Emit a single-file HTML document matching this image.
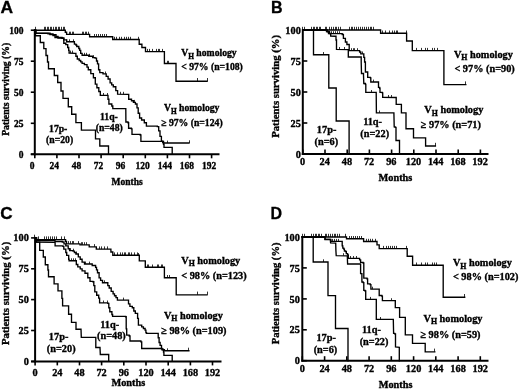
<!DOCTYPE html>
<html><head><meta charset="utf-8"><style>
html,body{margin:0;padding:0;background:#fff;}
svg{display:block;filter:grayscale(100%);}
.t{font-family:"Liberation Serif", serif;font-weight:bold;font-size:9.5px;fill:#000;stroke:#000;stroke-width:0.35px;}
.sub{font-size:7.5px;}
.L{font-family:"Liberation Sans", sans-serif;font-weight:bold;font-size:16px;fill:#000;stroke:#000;stroke-width:0.3px;}
</style></head><body>
<svg width="520" height="389" viewBox="0 0 520 389" shape-rendering="auto">
<rect width="520" height="389" fill="#fff"/>
<text transform="translate(0.50,12.80) scale(1.09,1)" class="L" style="font-size:16px">A</text>
<path d="M34.8,29.2 L34.8,155.3" stroke="#000" stroke-width="2" fill="none"/>
<path d="M30.8,154.3 L219.5,154.3" stroke="#000" stroke-width="2" fill="none"/>
<path d="M30.8,30.2 L34.8,30.2" stroke="#000" stroke-width="1.6"/>
<text x="23.4" y="33.5" text-anchor="end" class="t" style="font-size:9.5px">100</text>
<path d="M30.8,61.2 L34.8,61.2" stroke="#000" stroke-width="1.6"/>
<text x="23.4" y="64.5" text-anchor="end" class="t" style="font-size:9.5px">75</text>
<path d="M30.8,92.2 L34.8,92.2" stroke="#000" stroke-width="1.6"/>
<text x="23.4" y="95.5" text-anchor="end" class="t" style="font-size:9.5px">50</text>
<path d="M30.8,123.3 L34.8,123.3" stroke="#000" stroke-width="1.6"/>
<text x="23.4" y="126.6" text-anchor="end" class="t" style="font-size:9.5px">25</text>
<path d="M30.8,154.3 L34.8,154.3" stroke="#000" stroke-width="1.6"/>
<text x="23.4" y="157.6" text-anchor="end" class="t" style="font-size:9.5px">0</text>
<path d="M34.8,154.3 L34.8,158.3" stroke="#000" stroke-width="1.6"/>
<text x="32.2" y="169.0" text-anchor="middle" class="t" style="font-size:9.5px">0</text>
<path d="M56.9,154.3 L56.9,158.3" stroke="#000" stroke-width="1.6"/>
<text x="54.3" y="169.0" text-anchor="middle" class="t" style="font-size:9.5px">24</text>
<path d="M79.0,154.3 L79.0,158.3" stroke="#000" stroke-width="1.6"/>
<text x="76.4" y="169.0" text-anchor="middle" class="t" style="font-size:9.5px">48</text>
<path d="M101.1,154.3 L101.1,158.3" stroke="#000" stroke-width="1.6"/>
<text x="98.5" y="169.0" text-anchor="middle" class="t" style="font-size:9.5px">72</text>
<path d="M123.2,154.3 L123.2,158.3" stroke="#000" stroke-width="1.6"/>
<text x="120.6" y="169.0" text-anchor="middle" class="t" style="font-size:9.5px">96</text>
<path d="M145.3,154.3 L145.3,158.3" stroke="#000" stroke-width="1.6"/>
<text x="142.7" y="169.0" text-anchor="middle" class="t" style="font-size:9.5px">120</text>
<path d="M167.4,154.3 L167.4,158.3" stroke="#000" stroke-width="1.6"/>
<text x="164.8" y="169.0" text-anchor="middle" class="t" style="font-size:9.5px">144</text>
<path d="M189.5,154.3 L189.5,158.3" stroke="#000" stroke-width="1.6"/>
<text x="186.9" y="169.0" text-anchor="middle" class="t" style="font-size:9.5px">168</text>
<path d="M211.6,154.3 L211.6,158.3" stroke="#000" stroke-width="1.6"/>
<text x="209.0" y="169.0" text-anchor="middle" class="t" style="font-size:9.5px">192</text>
<text x="111.5" y="185.3" class="t" style="font-size:9.5px">Months</text>
<text transform="translate(9.0,89.3) rotate(-90)" text-anchor="middle" class="t" style="font-size:9.7px">Patients surviving (%)</text>
<path d="M34.8,30.2 L65.3,30.2 L65.3,32.2 L66.6,32.2 L66.6,34.4 L89.6,34.4 L89.6,36.7 L112.7,36.7 L112.7,39.5 L139.2,39.5 L139.2,44.2 L141.9,44.2 L141.9,47.5 L145.5,47.5 L145.5,51.6 L164.4,51.6 L164.4,63.5 L176.0,63.5 L176.0,81.2 L207.1,81.2" stroke="#000" stroke-width="1.35" fill="none" stroke-linejoin="miter" stroke-linecap="square"/>
<path d="M35.5,30.2 L35.5,26.8 M44.5,30.2 L44.5,26.8 M45.5,30.2 L45.5,26.8 M47.5,30.2 L47.5,26.8 M48.5,30.2 L48.5,26.8 M50.5,30.2 L50.5,26.8 M51.5,30.2 L51.5,26.8 M53.5,30.2 L53.5,26.8 M55.5,30.2 L55.5,26.8 M56.5,30.2 L56.5,26.8 M58.5,30.2 L58.5,26.8 M59.5,30.2 L59.5,26.8 M61.5,30.2 L61.5,26.8 M63.5,30.2 L63.5,26.8 M64.5,30.2 L64.5,26.8" stroke="#000" stroke-width="0.8"/>
<path d="M69.5,34.4 L69.5,31.7 M70.5,34.4 L70.5,31.7 M72.5,34.4 L72.5,31.7 M73.5,34.4 L73.5,31.7 M82.5,34.4 L82.5,31.7 M83.5,34.4 L83.5,31.7 M85.5,34.4 L85.5,31.7 M86.5,34.4 L86.5,31.7 M88.5,34.4 L88.5,31.7" stroke="#000" stroke-width="0.8"/>
<path d="M94.5,36.7 L94.5,34.0 M96.5,36.7 L96.5,34.0 M98.5,36.7 L98.5,34.0 M100.5,36.7 L100.5,34.0 M102.5,36.7 L102.5,34.0 M104.5,36.7 L104.5,34.0 M106.5,36.7 L106.5,34.0" stroke="#000" stroke-width="0.8"/>
<path d="M114.5,39.5 L114.5,36.8 M116.5,39.5 L116.5,36.8 M119.5,39.5 L119.5,36.8 M121.5,39.5 L121.5,36.8 M124.5,39.5 L124.5,36.8 M126.5,39.5 L126.5,36.8 M128.5,39.5 L128.5,36.8 M130.5,39.5 L130.5,36.8 M138.5,39.5 L138.5,36.8" stroke="#000" stroke-width="0.8"/>
<path d="M147.5,51.6 L147.5,48.9 M149.5,51.6 L149.5,48.9 M152.5,51.6 L152.5,48.9 M156.5,51.6 L156.5,48.9 M158.5,51.6 L158.5,48.9 M159.5,51.6 L159.5,48.9 M162.5,51.6 L162.5,48.9" stroke="#000" stroke-width="0.8"/>
<path d="M167.5,63.5 L167.5,60.8 M168.5,63.5 L168.5,60.8" stroke="#000" stroke-width="0.8"/>
<path d="M197.5,81.2 L197.5,78.0 M207.5,81.2 L207.5,78.0" stroke="#000" stroke-width="0.8"/>
<path d="M34.8,30.2 L35.8,30.2 L35.8,32.8 L48.0,33.1 L50.0,33.1 L50.0,33.8 L53.0,33.8 L53.0,34.6 L56.0,34.6 L56.0,36.5 L58.0,36.5 L58.0,37.5 L62.0,37.5 L62.0,38.0 L63.8,38.0 L63.8,39.8 L66.7,39.8 L66.7,41.7 L74.4,41.7 L74.4,42.3 L74.4,44.1 L75.9,44.1 L75.9,45.1 L76.8,45.1 L76.8,46.5 L78.8,46.5 L78.8,48.5 L79.7,48.5 L79.7,50.4 L80.7,50.4 L80.7,53.3 L82.1,53.3 L82.1,55.2 L88.8,55.2 L88.8,56.2 L92.7,56.2 L92.7,57.6 L95.1,57.6 L95.1,58.1 L96.5,58.1 L96.5,61.0 L97.5,61.0 L97.5,63.8 L98.6,63.8 L98.6,69.7 L99.8,69.7 L99.8,72.6 L103.0,72.6 L103.0,73.9 L106.2,73.9 L106.2,76.4 L108.1,76.4 L108.1,79.0 L110.1,79.0 L110.1,82.9 L111.7,82.9 L111.7,84.8 L113.3,84.8 L113.3,86.7 L115.8,86.7 L115.8,90.6 L117.6,90.6 L117.6,94.2 L127.2,94.4 L128.7,94.4 L128.7,99.2 L131.5,99.2 L131.5,100.7 L133.4,100.7 L133.4,102.3 L135.4,102.3 L135.4,104.0 L137.0,104.0 L137.0,107.9 L138.2,107.9 L138.2,113.2 L139.6,113.2 L139.6,118.0 L141.6,118.0 L141.6,120.0 L144.3,120.0 L144.3,122.7 L146.4,122.7 L146.4,126.1 L157.3,126.1 L157.3,126.6 L158.7,126.6 L158.7,130.9 L160.0,130.9 L160.0,136.4 L161.4,136.4 L161.4,141.2 L162.7,141.2 L162.7,142.5 L163.5,142.5 L163.5,144.2 L164.0,144.2 L164.0,147.3 L172.2,147.3 L172.2,154.0" stroke="#000" stroke-width="1.35" fill="none" stroke-linejoin="miter" stroke-linecap="square"/>
<path d="M66.5,41.7 L66.5,39.3" stroke="#000" stroke-width="0.8"/>
<path d="M69.5,41.7 L69.5,39.3" stroke="#000" stroke-width="0.8"/>
<path d="M73.5,41.7 L73.5,39.3" stroke="#000" stroke-width="0.8"/>
<path d="M76.5,46.5 L76.5,44.1" stroke="#000" stroke-width="0.8"/>
<path d="M84.5,55.2 L84.5,52.8" stroke="#000" stroke-width="0.8"/>
<path d="M86.5,55.2 L86.5,52.8" stroke="#000" stroke-width="0.8"/>
<path d="M89.5,56.2 L89.5,53.8" stroke="#000" stroke-width="0.8"/>
<path d="M93.5,57.6 L93.5,55.2" stroke="#000" stroke-width="0.8"/>
<path d="M105.5,73.9 L105.5,71.5" stroke="#000" stroke-width="0.8"/>
<path d="M120.5,94.2 L120.5,91.8" stroke="#000" stroke-width="0.8"/>
<path d="M123.5,94.2 L123.5,91.8" stroke="#000" stroke-width="0.8"/>
<path d="M134.5,102.3 L134.5,99.9" stroke="#000" stroke-width="0.8"/>
<path d="M34.8,30.2 L35.8,30.2 L35.8,33.4 L48.0,33.4 L48.0,33.8 L50.0,33.8 L50.0,34.6 L53.0,34.6 L53.0,35.6 L55.0,35.6 L55.0,37.5 L58.0,37.5 L58.0,38.0 L62.0,38.0 L62.0,38.4 L63.8,38.4 L63.8,43.2 L65.8,43.2 L65.8,44.6 L67.7,44.6 L67.7,47.5 L68.7,47.5 L68.7,50.4 L69.1,50.4 L69.1,53.0 L74.9,53.3 L75.9,53.3 L75.9,56.2 L77.3,56.2 L77.3,59.0 L79.2,59.0 L79.2,60.5 L80.7,60.5 L80.7,61.9 L82.1,61.9 L82.1,63.4 L84.4,63.4 L84.4,64.6 L87.0,64.6 L87.0,67.1 L88.3,67.1 L88.3,69.7 L90.8,69.7 L90.8,73.6 L93.4,73.6 L93.4,77.7 L95.3,77.7 L95.3,84.1 L96.9,84.1 L96.9,87.7 L98.8,87.7 L98.8,91.5 L100.3,91.5 L100.3,95.4 L107.5,95.4 L108.0,95.4 L108.0,99.2 L108.9,99.2 L108.9,104.0 L111.8,104.0 L111.8,106.0 L112.8,106.0 L112.8,108.6 L125.8,108.6 L125.8,109.0 L125.9,122.0 L128.0,122.0 L128.0,122.7 L128.6,122.7 L128.6,128.2 L131.4,128.2 L131.4,128.9 L132.0,128.9 L132.0,134.3 L140.2,134.3 L140.2,135.0 L140.9,135.0 L140.9,141.4 L162.0,141.4 L163.5,141.4 L163.5,143.0 L189.0,143.0" stroke="#000" stroke-width="1.35" fill="none" stroke-linejoin="miter" stroke-linecap="square"/>
<path d="M70.5,53.0 L70.5,50.6" stroke="#000" stroke-width="0.8"/>
<path d="M72.5,53.0 L72.5,50.6" stroke="#000" stroke-width="0.8"/>
<path d="M103.5,95.4 L103.5,93.0" stroke="#000" stroke-width="0.8"/>
<path d="M107.5,95.4 L107.5,93.0" stroke="#000" stroke-width="0.8"/>
<path d="M167.5,143.0 L167.5,140.6" stroke="#000" stroke-width="0.8"/>
<path d="M189.5,143.0 L189.5,140.3" stroke="#000" stroke-width="0.8"/>
<path d="M34.8,30.2 L35.5,30.2 L35.5,35.7 L40.3,35.7 L40.3,42.5 L43.8,42.5 L43.8,48.6 L46.0,48.6 L46.0,55.5 L47.5,55.5 L47.5,62.0 L48.5,62.0 L48.5,68.7 L54.3,68.7 L54.3,75.5 L57.7,75.5 L57.7,82.5 L61.0,82.5 L61.0,91.0 L63.0,91.0 L63.0,98.3 L68.3,98.3 L68.3,106.7 L71.7,106.7 L71.7,114.2 L75.9,114.2 L75.9,122.6 L81.4,122.6 L81.4,130.1 L95.5,130.1 L95.5,138.8 L99.8,138.8 L99.8,146.0 L108.5,146.0 L108.5,154.0" stroke="#000" stroke-width="1.35" fill="none" stroke-linejoin="miter" stroke-linecap="square"/>
<text x="181.2" y="56.3" class="t" style="font-size:9.7px">V<tspan style="font-size:7.37px" dy="2.4">H</tspan><tspan dy="-2.4"> homology</tspan></text>
<text x="181.2" y="70.2" text-anchor="start" class="t" style="font-size:9.7px">&lt; 97% (n=108)</text>
<text x="163.9" y="111.1" class="t" style="font-size:9.7px">V<tspan style="font-size:7.37px" dy="2.4">H</tspan><tspan dy="-2.4"> homology</tspan></text>
<text x="161.2" y="125.6" text-anchor="start" class="t" style="font-size:9.7px">≥ 97% (n=124)</text>
<text x="108.9" y="120.0" text-anchor="middle" class="t" style="font-size:9.7px">11q-</text>
<text x="109.2" y="131.1" text-anchor="middle" class="t" style="font-size:9.7px">(n=48)</text>
<text x="58.2" y="131.5" text-anchor="middle" class="t" style="font-size:9.7px">17p-</text>
<text x="59.6" y="143.1" text-anchor="middle" class="t" style="font-size:9.7px">(n=20)</text>
<text transform="translate(271.00,13.30) scale(1.0,1)" class="L" style="font-size:16px">B</text>
<path d="M302.8,29.0 L302.8,155.0" stroke="#000" stroke-width="2" fill="none"/>
<path d="M301.8,154.0 L488.5,154.0" stroke="#000" stroke-width="2" fill="none"/>
<path d="M302.8,30.0 L307.3,30.0" stroke="#000" stroke-width="1.6"/>
<text x="300.8" y="33.6" text-anchor="end" class="t" style="font-size:10.3px">100</text>
<path d="M302.8,61.0 L307.3,61.0" stroke="#000" stroke-width="1.6"/>
<text x="300.8" y="64.6" text-anchor="end" class="t" style="font-size:10.3px">75</text>
<path d="M302.8,92.0 L307.3,92.0" stroke="#000" stroke-width="1.6"/>
<text x="300.8" y="95.6" text-anchor="end" class="t" style="font-size:10.3px">50</text>
<path d="M302.8,123.0 L307.3,123.0" stroke="#000" stroke-width="1.6"/>
<text x="300.8" y="126.6" text-anchor="end" class="t" style="font-size:10.3px">25</text>
<path d="M302.8,154.0 L307.3,154.0" stroke="#000" stroke-width="1.6"/>
<text x="300.8" y="157.6" text-anchor="end" class="t" style="font-size:10.3px">0</text>
<path d="M302.8,154.0 L302.8,149.5" stroke="#000" stroke-width="1.6"/>
<text x="302.5" y="165.0" text-anchor="middle" class="t" style="font-size:10.3px">0</text>
<path d="M325.0,154.0 L325.0,149.5" stroke="#000" stroke-width="1.6"/>
<text x="324.7" y="165.0" text-anchor="middle" class="t" style="font-size:10.3px">24</text>
<path d="M347.2,154.0 L347.2,149.5" stroke="#000" stroke-width="1.6"/>
<text x="346.9" y="165.0" text-anchor="middle" class="t" style="font-size:10.3px">48</text>
<path d="M369.4,154.0 L369.4,149.5" stroke="#000" stroke-width="1.6"/>
<text x="369.1" y="165.0" text-anchor="middle" class="t" style="font-size:10.3px">72</text>
<path d="M391.6,154.0 L391.6,149.5" stroke="#000" stroke-width="1.6"/>
<text x="391.3" y="165.0" text-anchor="middle" class="t" style="font-size:10.3px">96</text>
<path d="M413.8,154.0 L413.8,149.5" stroke="#000" stroke-width="1.6"/>
<text x="413.5" y="165.0" text-anchor="middle" class="t" style="font-size:10.3px">120</text>
<path d="M436.0,154.0 L436.0,149.5" stroke="#000" stroke-width="1.6"/>
<text x="435.7" y="165.0" text-anchor="middle" class="t" style="font-size:10.3px">144</text>
<path d="M458.2,154.0 L458.2,149.5" stroke="#000" stroke-width="1.6"/>
<text x="457.9" y="165.0" text-anchor="middle" class="t" style="font-size:10.3px">168</text>
<path d="M480.4,154.0 L480.4,149.5" stroke="#000" stroke-width="1.6"/>
<text x="480.1" y="165.0" text-anchor="middle" class="t" style="font-size:10.3px">192</text>
<text x="378.6" y="180.9" class="t" style="font-size:10.3px">Months</text>
<text transform="translate(279.2,86.4) rotate(-90)" text-anchor="middle" class="t" style="font-size:10.7px">Patients surviving (%)</text>
<path d="M302.8,30.0 L380.6,30.0 L380.6,33.2 L406.6,33.2 L406.6,41.0 L412.3,41.0 L412.3,50.6 L443.9,50.6 L443.9,84.6 L465.8,84.6" stroke="#000" stroke-width="1.35" fill="none" stroke-linejoin="miter" stroke-linecap="square"/>
<path d="M302.5,30.0 L302.5,26.8 M304.5,30.0 L304.5,26.8 M311.5,30.0 L311.5,26.8 M313.5,30.0 L313.5,26.8 M314.5,30.0 L314.5,26.8 M316.5,30.0 L316.5,26.8 M317.5,30.0 L317.5,26.8 M319.5,30.0 L319.5,26.8 M320.5,30.0 L320.5,26.8 M325.5,30.0 L325.5,26.8 M326.5,30.0 L326.5,26.8 M329.5,30.0 L329.5,26.8 M331.5,30.0 L331.5,26.8 M333.5,30.0 L333.5,26.8 M335.5,30.0 L335.5,26.8 M336.5,30.0 L336.5,26.8 M338.5,30.0 L338.5,26.8 M340.5,30.0 L340.5,26.8 M349.5,30.0 L349.5,26.8 M351.5,30.0 L351.5,26.8 M352.5,30.0 L352.5,26.8 M354.5,30.0 L354.5,26.8 M356.5,30.0 L356.5,26.8 M358.5,30.0 L358.5,26.8 M360.5,30.0 L360.5,26.8 M362.5,30.0 L362.5,26.8 M364.5,30.0 L364.5,26.8 M366.5,30.0 L366.5,26.8 M368.5,30.0 L368.5,26.8 M370.5,30.0 L370.5,26.8 M371.5,30.0 L371.5,26.8 M373.5,30.0 L373.5,26.8" stroke="#000" stroke-width="0.8"/>
<path d="M382.5,33.2 L382.5,30.5 M385.5,33.2 L385.5,30.5 M389.5,33.2 L389.5,30.5 M392.5,33.2 L392.5,30.5 M394.5,33.2 L394.5,30.5 M396.5,33.2 L396.5,30.5 M397.5,33.2 L397.5,30.5 M406.5,33.2 L406.5,30.5" stroke="#000" stroke-width="0.8"/>
<path d="M416.5,50.6 L416.5,47.9 M421.5,50.6 L421.5,47.9 M425.5,50.6 L425.5,47.9 M427.5,50.6 L427.5,47.9 M432.5,50.6 L432.5,47.9 M434.5,50.6 L434.5,47.9 M437.5,50.6 L437.5,47.9" stroke="#000" stroke-width="0.8"/>
<path d="M465.5,84.6 L465.5,81.4" stroke="#000" stroke-width="0.8"/>
<path d="M302.8,30.0 L325.0,30.0 L326.5,30.0 L326.5,31.5 L328.5,31.5 L328.5,33.6 L341.0,33.7 L342.2,33.7 L342.2,34.5 L343.4,34.5 L343.4,38.3 L345.4,38.3 L345.4,42.0 L346.9,42.0 L346.9,44.5 L349.2,44.5 L349.2,49.7 L349.2,50.6 L359.2,50.6 L359.6,50.6 L359.6,52.0 L360.8,52.0 L360.8,53.9 L363.0,53.9 L363.8,53.9 L363.8,57.4 L364.6,57.4 L364.6,62.0 L365.4,62.0 L365.4,72.0 L367.7,72.0 L367.7,77.4 L370.4,77.4 L370.4,77.8 L370.8,77.8 L370.8,82.0 L378.1,82.0 L378.5,82.0 L378.5,87.4 L379.6,87.4 L379.6,88.2 L380.0,88.2 L380.0,92.4 L382.3,92.4 L382.3,92.8 L382.7,92.8 L382.7,97.4 L395.6,97.5 L396.2,97.5 L396.2,104.3 L400.5,104.3 L401.4,104.3 L401.4,112.9 L406.0,112.9 L406.0,128.7 L413.5,128.7 L413.5,137.9 L425.6,137.9 L425.6,146.0 L435.4,146.0" stroke="#000" stroke-width="1.35" fill="none" stroke-linejoin="miter" stroke-linecap="square"/>
<path d="M331.5,33.6 L331.5,31.2" stroke="#000" stroke-width="0.8"/>
<path d="M333.5,33.6 L333.5,31.2" stroke="#000" stroke-width="0.8"/>
<path d="M335.5,33.6 L335.5,31.2" stroke="#000" stroke-width="0.8"/>
<path d="M337.5,33.6 L337.5,31.2" stroke="#000" stroke-width="0.8"/>
<path d="M339.5,33.6 L339.5,31.2" stroke="#000" stroke-width="0.8"/>
<path d="M351.5,50.6 L351.5,48.2" stroke="#000" stroke-width="0.8"/>
<path d="M353.5,50.6 L353.5,48.2" stroke="#000" stroke-width="0.8"/>
<path d="M354.5,50.6 L354.5,48.2" stroke="#000" stroke-width="0.8"/>
<path d="M357.5,50.6 L357.5,48.2" stroke="#000" stroke-width="0.8"/>
<path d="M362.5,53.9 L362.5,51.5" stroke="#000" stroke-width="0.8"/>
<path d="M373.5,82.0 L373.5,79.6" stroke="#000" stroke-width="0.8"/>
<path d="M388.5,97.4 L388.5,95.0" stroke="#000" stroke-width="0.8"/>
<path d="M391.5,97.4 L391.5,95.0" stroke="#000" stroke-width="0.8"/>
<path d="M435.5,146.0 L435.5,142.8" stroke="#000" stroke-width="0.8"/>
<path d="M302.8,30.0 L325.0,30.0 L327.3,30.0 L327.3,31.7 L329.5,31.7 L329.5,33.5 L330.7,33.5 L330.7,36.0 L335.3,36.2 L336.0,36.2 L336.0,40.0 L336.5,40.0 L336.5,49.4 L348.3,49.6 L348.3,57.0 L360.5,57.0 L361.2,57.0 L361.2,62.0 L361.5,73.5 L363.5,73.5 L363.5,75.0 L363.8,83.5 L365.4,83.5 L365.4,84.3 L365.8,84.3 L365.8,92.4 L376.2,92.4 L376.4,112.9 L393.9,112.9 L394.2,126.8 L395.2,126.8 L395.2,127.3 L396.0,127.3 L396.0,140.5 L399.5,140.5 L399.5,154.0" stroke="#000" stroke-width="1.35" fill="none" stroke-linejoin="miter" stroke-linecap="square"/>
<path d="M339.5,49.4 L339.5,47.0" stroke="#000" stroke-width="0.8"/>
<path d="M344.5,49.4 L344.5,47.0" stroke="#000" stroke-width="0.8"/>
<path d="M371.5,92.4 L371.5,90.0" stroke="#000" stroke-width="0.8"/>
<path d="M379.5,112.9 L379.5,110.5" stroke="#000" stroke-width="0.8"/>
<path d="M302.8,30.0 L313.5,30.0 L313.5,54.7 L328.8,54.7 L328.8,88.0 L336.2,88.0 L336.2,121.0 L349.1,121.0 L349.1,154.0" stroke="#000" stroke-width="1.35" fill="none" stroke-linejoin="miter" stroke-linecap="square"/>
<path d="M323.5,54.7 L323.5,52.0" stroke="#000" stroke-width="0.8"/>
<text x="453.9" y="57.7" class="t" style="font-size:10.3px">V<tspan style="font-size:7.83px" dy="2.4">H</tspan><tspan dy="-2.4"> homology</tspan></text>
<text x="454.4" y="72.1" text-anchor="start" class="t" style="font-size:10.3px">&lt; 97% (n=90)</text>
<text x="424.3" y="113.4" class="t" style="font-size:10.3px">V<tspan style="font-size:7.83px" dy="2.4">H</tspan><tspan dy="-2.4"> homology</tspan></text>
<text x="420.8" y="128.0" text-anchor="start" class="t" style="font-size:10.3px">≥ 97% (n=71)</text>
<text x="372.6" y="124.9" text-anchor="middle" class="t" style="font-size:10.3px">11q-</text>
<text x="374.7" y="136.9" text-anchor="middle" class="t" style="font-size:10.3px">(n=22)</text>
<text x="326.6" y="132.8" text-anchor="middle" class="t" style="font-size:10.3px">17p-</text>
<text x="326.4" y="144.7" text-anchor="middle" class="t" style="font-size:10.3px">(n=6)</text>
<text transform="translate(0.30,218.60) scale(1.07,1)" class="L" style="font-size:16px">C</text>
<path d="M35.1,236.9 L35.1,362.4" stroke="#000" stroke-width="2" fill="none"/>
<path d="M31.1,361.4 L221.5,361.4" stroke="#000" stroke-width="2" fill="none"/>
<path d="M31.1,237.9 L35.1,237.9" stroke="#000" stroke-width="1.6"/>
<text x="28.8" y="241.4" text-anchor="end" class="t" style="font-size:10.3px">100</text>
<path d="M31.1,268.8 L35.1,268.8" stroke="#000" stroke-width="1.6"/>
<text x="28.8" y="272.3" text-anchor="end" class="t" style="font-size:10.3px">75</text>
<path d="M31.1,299.6 L35.1,299.6" stroke="#000" stroke-width="1.6"/>
<text x="28.8" y="303.1" text-anchor="end" class="t" style="font-size:10.3px">50</text>
<path d="M31.1,330.5 L35.1,330.5" stroke="#000" stroke-width="1.6"/>
<text x="28.8" y="334.0" text-anchor="end" class="t" style="font-size:10.3px">25</text>
<path d="M31.1,361.4 L35.1,361.4" stroke="#000" stroke-width="1.6"/>
<text x="28.8" y="364.9" text-anchor="end" class="t" style="font-size:10.3px">0</text>
<path d="M35.1,361.4 L35.1,365.4" stroke="#000" stroke-width="1.6"/>
<text x="35.1" y="375.8" text-anchor="middle" class="t" style="font-size:10.3px">0</text>
<path d="M57.3,361.4 L57.3,365.4" stroke="#000" stroke-width="1.6"/>
<text x="57.3" y="375.8" text-anchor="middle" class="t" style="font-size:10.3px">24</text>
<path d="M79.5,361.4 L79.5,365.4" stroke="#000" stroke-width="1.6"/>
<text x="79.5" y="375.8" text-anchor="middle" class="t" style="font-size:10.3px">48</text>
<path d="M101.6,361.4 L101.6,365.4" stroke="#000" stroke-width="1.6"/>
<text x="101.6" y="375.8" text-anchor="middle" class="t" style="font-size:10.3px">72</text>
<path d="M123.8,361.4 L123.8,365.4" stroke="#000" stroke-width="1.6"/>
<text x="123.8" y="375.8" text-anchor="middle" class="t" style="font-size:10.3px">96</text>
<path d="M146.0,361.4 L146.0,365.4" stroke="#000" stroke-width="1.6"/>
<text x="146.0" y="375.8" text-anchor="middle" class="t" style="font-size:10.3px">120</text>
<path d="M168.2,361.4 L168.2,365.4" stroke="#000" stroke-width="1.6"/>
<text x="168.2" y="375.8" text-anchor="middle" class="t" style="font-size:10.3px">144</text>
<path d="M190.4,361.4 L190.4,365.4" stroke="#000" stroke-width="1.6"/>
<text x="190.4" y="375.8" text-anchor="middle" class="t" style="font-size:10.3px">168</text>
<path d="M212.5,361.4 L212.5,365.4" stroke="#000" stroke-width="1.6"/>
<text x="212.5" y="375.8" text-anchor="middle" class="t" style="font-size:10.3px">192</text>
<text x="111.5" y="386.4" class="t" style="font-size:10.3px">Months</text>
<text transform="translate(9.0,293.4) rotate(-90)" text-anchor="middle" class="t" style="font-size:10.75px">Patients surviving (%)</text>
<path d="M35.1,237.9 L36.5,237.9 L36.5,239.6 L65.6,239.6 L65.6,241.5 L66.5,241.5 L66.5,243.8 L80.0,243.8 L80.0,244.9 L89.2,244.9 L89.2,246.8 L96.3,246.8 L96.3,249.1 L109.9,249.1 L110.9,249.1 L110.9,252.0 L112.8,252.0 L112.8,255.2 L138.9,255.2 L139.3,255.2 L139.3,260.8 L145.3,260.8 L145.3,267.2 L164.4,267.2 L164.4,277.7 L176.2,277.7 L176.2,294.8 L207.0,294.8" stroke="#000" stroke-width="1.35" fill="none" stroke-linejoin="miter" stroke-linecap="square"/>
<path d="M34.5,237.9 L34.5,234.7" stroke="#000" stroke-width="0.8"/>
<path d="M38.5,239.6 L38.5,236.4 M44.5,239.6 L44.5,236.4 M46.5,239.6 L46.5,236.4 M48.5,239.6 L48.5,236.4 M50.5,239.6 L50.5,236.4 M52.5,239.6 L52.5,236.4 M54.5,239.6 L54.5,236.4 M56.5,239.6 L56.5,236.4 M61.5,239.6 L61.5,236.4 M64.5,239.6 L64.5,236.4" stroke="#000" stroke-width="0.8"/>
<path d="M68.5,243.8 L68.5,241.1 M70.5,243.8 L70.5,241.1 M72.5,243.8 L72.5,241.1 M73.5,243.8 L73.5,241.1 M78.5,243.8 L78.5,241.1" stroke="#000" stroke-width="0.8"/>
<path d="M81.5,244.9 L81.5,242.2 M82.5,244.9 L82.5,242.2 M84.5,244.9 L84.5,242.2 M86.5,244.9 L86.5,242.2" stroke="#000" stroke-width="0.8"/>
<path d="M94.5,246.8 L94.5,244.1" stroke="#000" stroke-width="0.8"/>
<path d="M99.5,249.1 L99.5,246.4 M101.5,249.1 L101.5,246.4 M104.5,249.1 L104.5,246.4 M107.5,249.1 L107.5,246.4" stroke="#000" stroke-width="0.8"/>
<path d="M114.5,255.2 L114.5,252.4 M117.5,255.2 L117.5,252.4 M120.5,255.2 L120.5,252.4 M122.5,255.2 L122.5,252.4 M124.5,255.2 L124.5,252.4 M125.5,255.2 L125.5,252.4 M128.5,255.2 L128.5,252.4 M129.5,255.2 L129.5,252.4 M131.5,255.2 L131.5,252.4 M134.5,255.2 L134.5,252.4 M137.5,255.2 L137.5,252.4" stroke="#000" stroke-width="0.8"/>
<path d="M138.5,255.2 L138.5,253.0" stroke="#000" stroke-width="0.8"/>
<path d="M147.5,267.2 L147.5,264.5 M148.5,267.2 L148.5,264.5 M152.5,267.2 L152.5,264.5 M157.5,267.2 L157.5,264.5 M158.5,267.2 L158.5,264.5 M161.5,267.2 L161.5,264.5 M162.5,267.2 L162.5,264.5" stroke="#000" stroke-width="0.8"/>
<path d="M167.5,277.7 L167.5,275.0 M169.5,277.7 L169.5,275.0" stroke="#000" stroke-width="0.8"/>
<path d="M197.5,294.8 L197.5,291.6 M207.5,294.8 L207.5,291.6" stroke="#000" stroke-width="0.8"/>
<path d="M35.1,237.9 L36.5,237.9 L36.5,240.5 L55.0,240.5 L55.0,241.5 L62.3,241.5 L62.3,242.0 L64.0,242.0 L64.0,243.9 L65.8,243.9 L65.8,245.8 L68.2,245.8 L68.2,248.7 L69.6,248.7 L69.6,250.6 L73.0,250.6 L73.0,251.1 L74.4,251.1 L74.4,252.5 L75.9,252.5 L75.9,254.0 L78.3,254.0 L78.3,256.8 L80.2,256.8 L80.2,259.2 L82.1,259.2 L82.1,262.1 L84.5,262.1 L84.5,264.0 L89.8,264.0 L92.2,264.0 L92.2,265.5 L95.6,265.5 L95.6,267.4 L96.5,267.4 L96.5,269.8 L97.5,269.8 L97.5,272.7 L99.1,272.7 L99.1,277.9 L100.6,277.9 L100.6,280.3 L102.5,280.3 L102.5,282.7 L106.8,282.7 L107.8,282.7 L107.8,285.6 L109.2,285.6 L109.2,288.0 L111.2,288.0 L111.2,291.3 L113.1,291.3 L113.1,293.8 L114.5,293.8 L114.5,295.7 L116.0,295.7 L116.0,297.6 L117.4,297.6 L117.4,300.0 L127.5,300.2 L128.5,300.2 L128.5,303.8 L129.9,303.8 L129.9,306.3 L132.3,306.3 L132.3,307.7 L133.8,307.7 L133.8,311.0 L135.3,311.0 L135.3,313.4 L137.6,313.4 L137.6,318.4 L138.4,318.4 L138.4,325.1 L141.7,325.1 L141.7,326.8 L143.4,326.8 L143.4,328.5 L145.1,328.5 L145.1,330.1 L145.9,330.1 L145.9,332.6 L146.5,332.6 L146.5,333.4 L157.2,333.4 L158.2,333.4 L158.2,337.7 L159.1,337.7 L159.1,342.5 L160.1,342.5 L160.1,345.4 L161.5,345.4 L161.5,348.8 L163.0,348.8 L163.0,349.7 L163.5,349.7 L163.5,352.1 L163.9,352.1 L163.9,355.3 L172.2,355.3 L172.2,361.4" stroke="#000" stroke-width="1.35" fill="none" stroke-linejoin="miter" stroke-linecap="square"/>
<path d="M70.5,250.6 L70.5,248.2" stroke="#000" stroke-width="0.8"/>
<path d="M73.5,251.1 L73.5,248.7" stroke="#000" stroke-width="0.8"/>
<path d="M76.5,254.0 L76.5,251.6" stroke="#000" stroke-width="0.8"/>
<path d="M85.5,264.0 L85.5,261.6" stroke="#000" stroke-width="0.8"/>
<path d="M89.5,264.0 L89.5,261.6" stroke="#000" stroke-width="0.8"/>
<path d="M104.5,282.7 L104.5,280.3" stroke="#000" stroke-width="0.8"/>
<path d="M123.5,300.0 L123.5,297.6" stroke="#000" stroke-width="0.8"/>
<path d="M35.1,237.9 L36.5,237.9 L36.5,242.0 L54.5,242.3 L55.1,242.3 L55.1,245.8 L62.9,245.8 L62.9,246.3 L63.8,246.3 L63.8,249.1 L65.8,249.1 L65.8,252.5 L66.7,252.5 L66.7,255.4 L68.7,255.4 L68.7,259.2 L69.1,259.2 L69.1,260.7 L75.9,260.7 L76.3,260.7 L76.3,264.5 L77.8,264.5 L77.8,266.9 L80.2,266.9 L80.2,268.8 L82.1,268.8 L82.1,270.8 L85.0,270.8 L85.0,273.2 L87.8,273.2 L87.8,277.7 L90.0,277.7 L90.0,281.3 L92.9,281.3 L92.9,281.7 L93.8,281.7 L93.8,285.6 L94.8,285.6 L94.8,291.8 L96.7,291.8 L96.7,295.2 L98.7,295.2 L98.7,298.1 L99.6,298.1 L99.6,302.9 L107.8,302.9 L107.8,303.4 L108.8,303.4 L108.8,307.7 L109.8,307.7 L109.8,311.7 L111.9,311.7 L111.9,314.5 L112.6,314.5 L112.6,316.3 L125.6,316.3 L125.6,316.7 L126.2,316.7 L126.2,328.8 L126.7,328.8 L126.7,335.1 L129.2,335.1 L129.2,336.0 L130.0,336.0 L130.0,341.0 L140.9,341.0 L140.9,341.8 L141.7,341.8 L141.7,348.5 L160.6,348.5 L162.0,348.5 L162.0,349.7 L164.4,349.7 L164.4,350.7 L188.9,350.7" stroke="#000" stroke-width="1.35" fill="none" stroke-linejoin="miter" stroke-linecap="square"/>
<path d="M71.5,260.7 L71.5,258.3" stroke="#000" stroke-width="0.8"/>
<path d="M73.5,260.7 L73.5,258.3" stroke="#000" stroke-width="0.8"/>
<path d="M75.5,260.7 L75.5,258.3" stroke="#000" stroke-width="0.8"/>
<path d="M103.5,302.9 L103.5,300.5" stroke="#000" stroke-width="0.8"/>
<path d="M107.5,302.9 L107.5,300.5" stroke="#000" stroke-width="0.8"/>
<path d="M167.5,350.7 L167.5,348.3" stroke="#000" stroke-width="0.8"/>
<path d="M188.5,350.7 L188.5,347.7" stroke="#000" stroke-width="0.8"/>
<path d="M35.1,237.9 L35.5,237.9 L35.5,242.1 L39.7,242.1 L39.7,250.3 L43.3,250.3 L43.3,257.0 L45.3,257.0 L45.3,264.7 L47.5,264.7 L47.9,264.7 L47.9,270.0 L48.5,270.0 L48.5,276.7 L54.1,276.7 L54.1,283.8 L58.0,283.8 L58.0,290.8 L61.5,290.8 L61.9,290.8 L61.9,298.3 L62.6,298.3 L62.6,305.8 L68.6,305.8 L68.6,314.2 L71.0,314.2 L71.5,314.2 L71.5,322.3 L75.5,322.3 L76.0,322.3 L76.0,329.2 L81.0,329.2 L81.3,337.3 L95.8,337.3 L95.8,347.5 L100.0,347.5 L100.3,354.5 L108.7,354.5 L108.7,361.4" stroke="#000" stroke-width="1.35" fill="none" stroke-linejoin="miter" stroke-linecap="square"/>
<text x="181.2" y="263.5" class="t" style="font-size:10.3px">V<tspan style="font-size:7.83px" dy="2.4">H</tspan><tspan dy="-2.4"> homology</tspan></text>
<text x="181.2" y="278.5" text-anchor="start" class="t" style="font-size:10.3px">&lt; 98% (n=123)</text>
<text x="163.9" y="318.5" class="t" style="font-size:10.3px">V<tspan style="font-size:7.83px" dy="2.4">H</tspan><tspan dy="-2.4"> homology</tspan></text>
<text x="161.2" y="334.2" text-anchor="start" class="t" style="font-size:10.3px">≥ 98% (n=109)</text>
<text x="109.7" y="328.0" text-anchor="middle" class="t" style="font-size:10.3px">11q-</text>
<text x="111.4" y="339.2" text-anchor="middle" class="t" style="font-size:10.3px">(n=48)</text>
<text x="58.6" y="340.1" text-anchor="middle" class="t" style="font-size:10.3px">17p-</text>
<text x="61.2" y="352.2" text-anchor="middle" class="t" style="font-size:10.3px">(n=20)</text>
<text transform="translate(270.40,219.40) scale(1.0,1)" class="L" style="font-size:16px">D</text>
<path d="M302.3,236.0 L302.3,361.7" stroke="#000" stroke-width="2" fill="none"/>
<path d="M301.3,360.7 L488.5,360.7" stroke="#000" stroke-width="2" fill="none"/>
<path d="M302.3,237.0 L306.8,237.0" stroke="#000" stroke-width="1.6"/>
<text x="299.9" y="240.6" text-anchor="end" class="t" style="font-size:10.3px">100</text>
<path d="M302.3,267.9 L306.8,267.9" stroke="#000" stroke-width="1.6"/>
<text x="299.9" y="271.5" text-anchor="end" class="t" style="font-size:10.3px">75</text>
<path d="M302.3,298.9 L306.8,298.9" stroke="#000" stroke-width="1.6"/>
<text x="299.9" y="302.5" text-anchor="end" class="t" style="font-size:10.3px">50</text>
<path d="M302.3,329.8 L306.8,329.8" stroke="#000" stroke-width="1.6"/>
<text x="299.9" y="333.4" text-anchor="end" class="t" style="font-size:10.3px">25</text>
<path d="M302.3,360.7 L306.8,360.7" stroke="#000" stroke-width="1.6"/>
<text x="299.9" y="364.3" text-anchor="end" class="t" style="font-size:10.3px">0</text>
<path d="M302.3,360.7 L302.3,356.2" stroke="#000" stroke-width="1.6"/>
<text x="302.3" y="371.6" text-anchor="middle" class="t" style="font-size:10.3px">0</text>
<path d="M324.6,360.7 L324.6,356.2" stroke="#000" stroke-width="1.6"/>
<text x="324.6" y="371.6" text-anchor="middle" class="t" style="font-size:10.3px">24</text>
<path d="M346.8,360.7 L346.8,356.2" stroke="#000" stroke-width="1.6"/>
<text x="346.8" y="371.6" text-anchor="middle" class="t" style="font-size:10.3px">48</text>
<path d="M369.1,360.7 L369.1,356.2" stroke="#000" stroke-width="1.6"/>
<text x="369.1" y="371.6" text-anchor="middle" class="t" style="font-size:10.3px">72</text>
<path d="M391.3,360.7 L391.3,356.2" stroke="#000" stroke-width="1.6"/>
<text x="391.3" y="371.6" text-anchor="middle" class="t" style="font-size:10.3px">96</text>
<path d="M413.6,360.7 L413.6,356.2" stroke="#000" stroke-width="1.6"/>
<text x="413.6" y="371.6" text-anchor="middle" class="t" style="font-size:10.3px">120</text>
<path d="M435.8,360.7 L435.8,356.2" stroke="#000" stroke-width="1.6"/>
<text x="435.8" y="371.6" text-anchor="middle" class="t" style="font-size:10.3px">144</text>
<path d="M458.1,360.7 L458.1,356.2" stroke="#000" stroke-width="1.6"/>
<text x="458.1" y="371.6" text-anchor="middle" class="t" style="font-size:10.3px">168</text>
<path d="M480.3,360.7 L480.3,356.2" stroke="#000" stroke-width="1.6"/>
<text x="480.3" y="371.6" text-anchor="middle" class="t" style="font-size:10.3px">192</text>
<text x="378.7" y="387.7" class="t" style="font-size:10.3px">Months</text>
<text transform="translate(279.2,293.4) rotate(-90)" text-anchor="middle" class="t" style="font-size:10.6px">Patients surviving (%)</text>
<path d="M302.3,237.0 L346.5,237.0 L346.5,238.7 L363.6,238.7 L363.6,241.5 L377.0,241.5 L377.0,244.9 L379.2,244.9 L379.2,248.6 L407.2,248.6 L407.2,256.2 L412.6,256.2 L412.6,265.2 L443.2,265.2 L443.2,297.2 L464.7,297.2" stroke="#000" stroke-width="1.35" fill="none" stroke-linejoin="miter" stroke-linecap="square"/>
<path d="M302.5,237.0 L302.5,233.8 M304.5,237.0 L304.5,233.8 M311.5,237.0 L311.5,233.8 M313.5,237.0 L313.5,233.8 M315.5,237.0 L315.5,233.8 M316.5,237.0 L316.5,233.8 M318.5,237.0 L318.5,233.8 M319.5,237.0 L319.5,233.8 M321.5,237.0 L321.5,233.8 M325.5,237.0 L325.5,233.8 M326.5,237.0 L326.5,233.8 M328.5,237.0 L328.5,233.8 M330.5,237.0 L330.5,233.8 M332.5,237.0 L332.5,233.8 M334.5,237.0 L334.5,233.8 M335.5,237.0 L335.5,233.8 M337.5,237.0 L337.5,233.8 M339.5,237.0 L339.5,233.8 M345.5,237.0 L345.5,233.8" stroke="#000" stroke-width="0.8"/>
<path d="M349.5,238.7 L349.5,236.0 M351.5,238.7 L351.5,236.0 M353.5,238.7 L353.5,236.0 M355.5,238.7 L355.5,236.0 M357.5,238.7 L357.5,236.0 M359.5,238.7 L359.5,236.0 M361.5,238.7 L361.5,236.0" stroke="#000" stroke-width="0.8"/>
<path d="M366.5,241.5 L366.5,238.8 M368.5,241.5 L368.5,238.8 M370.5,241.5 L370.5,238.8 M372.5,241.5 L372.5,238.8 M375.5,241.5 L375.5,238.8" stroke="#000" stroke-width="0.8"/>
<path d="M383.5,248.6 L383.5,245.9 M386.5,248.6 L386.5,245.9 M388.5,248.6 L388.5,245.9 M390.5,248.6 L390.5,245.9 M392.5,248.6 L392.5,245.9 M394.5,248.6 L394.5,245.9 M396.5,248.6 L396.5,245.9 M406.5,248.6 L406.5,245.9" stroke="#000" stroke-width="0.8"/>
<path d="M416.5,265.2 L416.5,262.5 M421.5,265.2 L421.5,262.5 M425.5,265.2 L425.5,262.5 M427.5,265.2 L427.5,262.5 M432.5,265.2 L432.5,262.5 M434.5,265.2 L434.5,262.5 M436.5,265.2 L436.5,262.5" stroke="#000" stroke-width="0.8"/>
<path d="M464.5,297.2 L464.5,294.0" stroke="#000" stroke-width="0.8"/>
<path d="M302.3,237.0 L324.5,237.0 L325.0,237.0 L325.0,239.3 L330.9,239.3 L331.0,241.3 L341.5,241.3 L342.2,241.3 L342.2,245.8 L342.8,245.8 L342.8,248.1 L343.8,248.1 L343.8,249.1 L344.4,249.1 L344.4,251.0 L345.7,251.0 L345.7,251.6 L346.3,251.6 L346.3,253.6 L347.6,253.6 L347.6,254.8 L348.3,254.8 L348.3,256.8 L348.3,258.4 L358.8,258.4 L359.6,258.4 L359.6,259.8 L360.6,259.8 L360.6,262.3 L363.1,262.3 L363.1,263.0 L363.8,263.0 L363.8,270.0 L363.8,278.1 L367.0,278.1 L367.0,278.8 L367.6,278.8 L367.6,283.9 L370.2,283.9 L370.2,284.6 L370.9,284.6 L370.9,289.1 L378.6,289.1 L379.2,289.1 L379.2,295.5 L381.8,295.5 L381.8,296.1 L382.4,296.1 L382.4,300.6 L395.3,300.6 L395.3,307.6 L399.6,307.6 L399.6,308.3 L399.6,317.4 L405.3,317.4 L405.3,334.9 L412.5,334.9 L412.5,343.4 L425.2,343.4 L425.2,351.8 L434.8,351.8" stroke="#000" stroke-width="1.35" fill="none" stroke-linejoin="miter" stroke-linecap="square"/>
<path d="M332.5,241.3 L332.5,238.9" stroke="#000" stroke-width="0.8"/>
<path d="M334.5,241.3 L334.5,238.9" stroke="#000" stroke-width="0.8"/>
<path d="M336.5,241.3 L336.5,238.9" stroke="#000" stroke-width="0.8"/>
<path d="M338.5,241.3 L338.5,238.9" stroke="#000" stroke-width="0.8"/>
<path d="M350.5,258.4 L350.5,256.0" stroke="#000" stroke-width="0.8"/>
<path d="M353.5,258.4 L353.5,256.0" stroke="#000" stroke-width="0.8"/>
<path d="M356.5,258.4 L356.5,256.0" stroke="#000" stroke-width="0.8"/>
<path d="M372.5,289.1 L372.5,286.7" stroke="#000" stroke-width="0.8"/>
<path d="M391.5,300.6 L391.5,298.2" stroke="#000" stroke-width="0.8"/>
<path d="M434.5,351.8 L434.5,348.6" stroke="#000" stroke-width="0.8"/>
<path d="M302.3,237.0 L324.5,237.0 L325.0,237.0 L325.0,239.5 L330.3,239.5 L330.6,242.9 L335.7,243.1 L335.9,250.5 L336.2,255.6 L347.3,255.8 L347.6,264.0 L359.9,264.0 L360.6,264.0 L360.6,273.6 L361.9,273.6 L361.9,282.0 L363.1,282.0 L363.1,282.6 L363.8,282.6 L363.8,290.3 L365.1,290.3 L365.1,291.0 L365.7,291.0 L365.7,299.3 L375.6,299.3 L376.3,299.3 L376.3,319.4 L393.3,319.4 L393.6,333.4 L394.7,333.4 L394.7,333.9 L395.5,333.9 L395.5,347.0 L399.3,347.3 L399.3,360.7" stroke="#000" stroke-width="1.35" fill="none" stroke-linejoin="miter" stroke-linecap="square"/>
<path d="M343.5,255.6 L343.5,253.2" stroke="#000" stroke-width="0.8"/>
<path d="M370.5,299.3 L370.5,296.9" stroke="#000" stroke-width="0.8"/>
<path d="M380.5,319.4 L380.5,317.0" stroke="#000" stroke-width="0.8"/>
<path d="M302.3,237.0 L313.2,237.0 L313.2,262.0 L328.0,262.0 L328.0,295.6 L335.5,295.6 L335.5,328.5 L348.0,328.5 L348.0,360.7" stroke="#000" stroke-width="1.35" fill="none" stroke-linejoin="miter" stroke-linecap="square"/>
<path d="M323.5,262.0 L323.5,259.3" stroke="#000" stroke-width="0.8"/>
<text x="452.9" y="266.3" class="t" style="font-size:10.3px">V<tspan style="font-size:7.83px" dy="2.4">H</tspan><tspan dy="-2.4"> homology</tspan></text>
<text x="452.9" y="280.3" text-anchor="start" class="t" style="font-size:10.3px">&lt; 98% (n=102)</text>
<text x="423.5" y="321.6" class="t" style="font-size:10.3px">V<tspan style="font-size:7.83px" dy="2.4">H</tspan><tspan dy="-2.4"> homology</tspan></text>
<text x="420.4" y="337.6" text-anchor="start" class="t" style="font-size:10.3px">≥ 98% (n=59)</text>
<text x="371.4" y="332.9" text-anchor="middle" class="t" style="font-size:10.3px">11q-</text>
<text x="374.0" y="344.9" text-anchor="middle" class="t" style="font-size:10.3px">(n=22)</text>
<text x="326.2" y="341.0" text-anchor="middle" class="t" style="font-size:10.3px">17p-</text>
<text x="325.5" y="353.4" text-anchor="middle" class="t" style="font-size:10.3px">(n=6)</text>
</svg>
</body></html>
